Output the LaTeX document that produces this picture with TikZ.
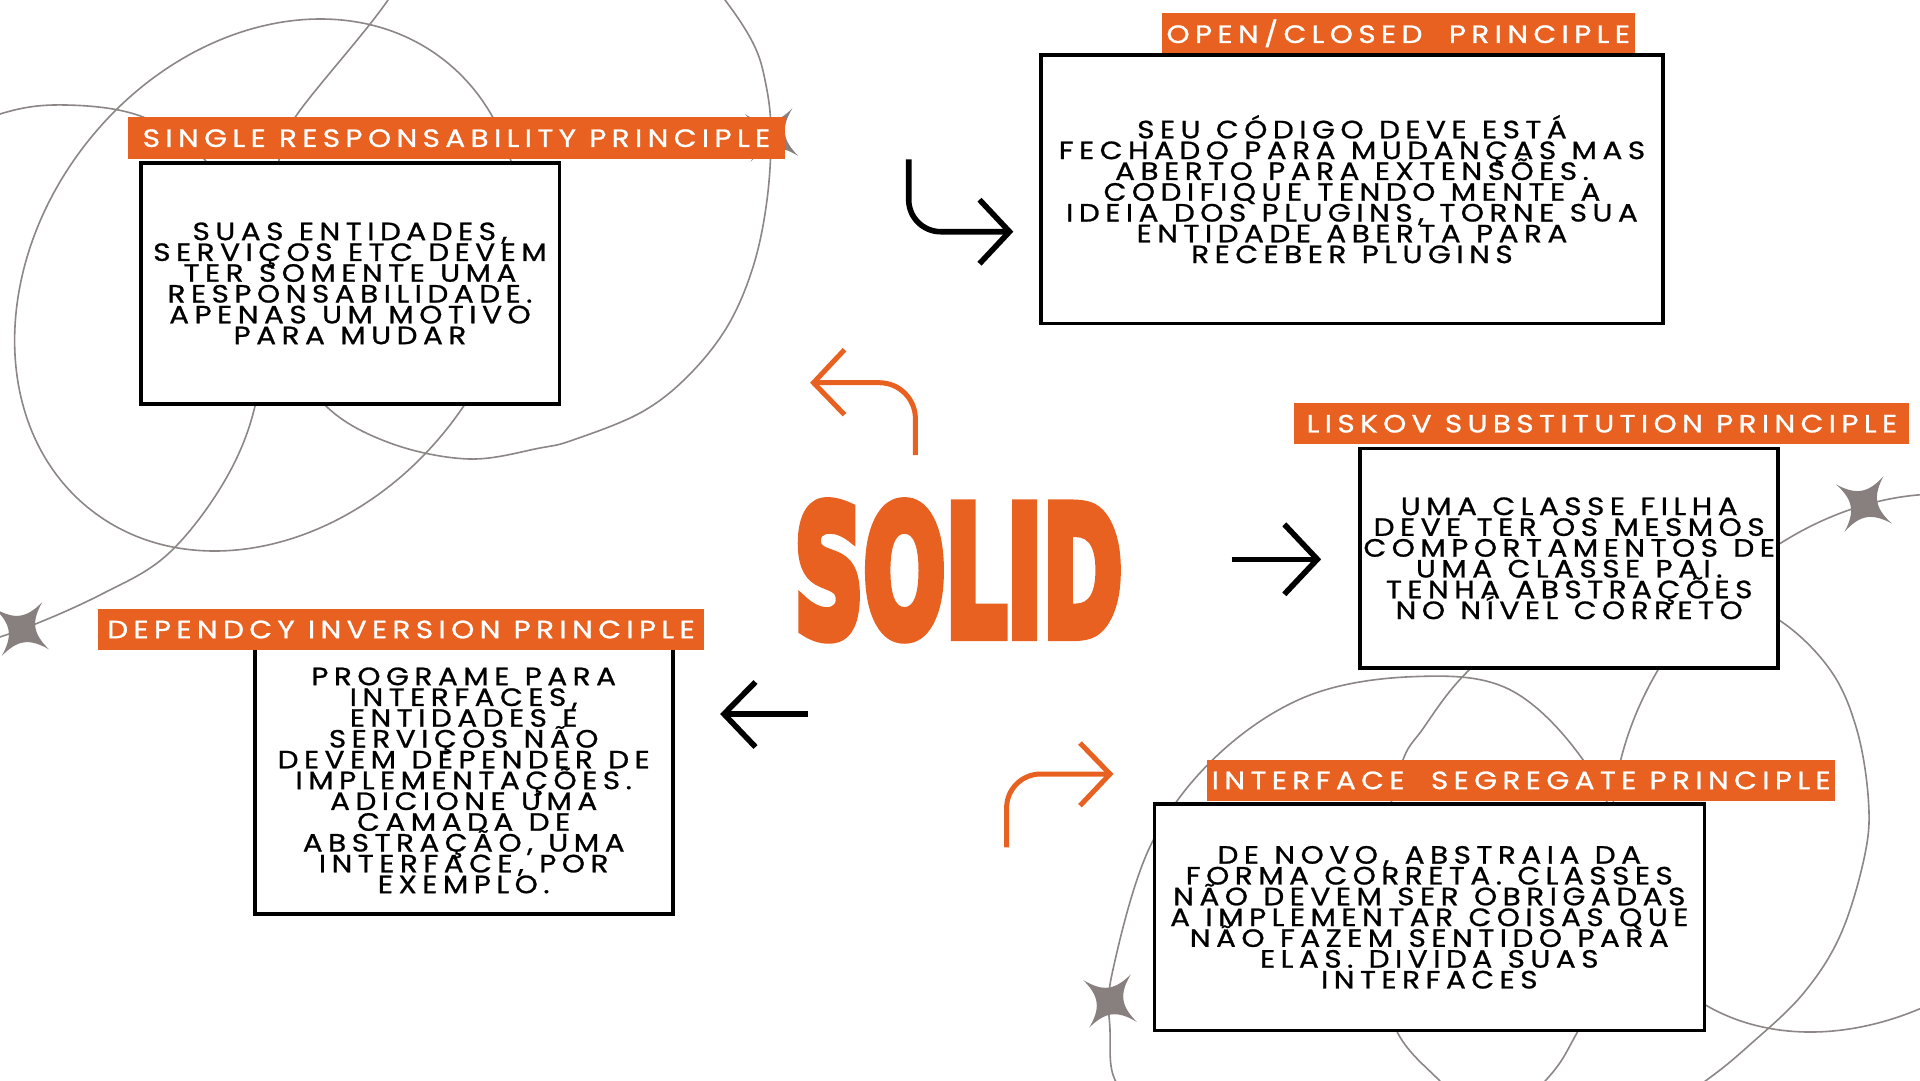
\documentclass[tikz,border=0pt]{standalone}
\usepackage{fontspec}
\usepackage{graphicx}
\usetikzlibrary{calc}
\setmainfont{Poppins}
\newfontfamily\cardfont{Poppins}[LetterSpace=22, FakeStretch=1.18, FakeBold=1, WordSpace=1.15]
\newfontfamily\tagfont{Poppins}[LetterSpace=21.5, FakeStretch=1.18, FakeBold=1]
\newfontfamily\solidfont{DejaVu Sans Bold}[FakeBold=7]
\definecolor{brandorange}{RGB}{232,97,33}
\definecolor{curvegray}{RGB}{140,135,134}
\definecolor{stargray}{RGB}{136,128,127}
\setlength{\lineskiplimit}{-100pt}

\tikzset{
  card/.style={draw=black, line width=3.6pt, fill=white, inner sep=0pt, align=center,
    font=\cardfont\fontsize{25pt}{20.8pt}\selectfont},
  tag/.style={fill=brandorange, text=white, inner sep=0pt,
    font=\tagfont\fontsize{25pt}{25pt}\selectfont},
  flowblack/.style={draw=black, line width=5.6pt, line join=miter},
  floworange/.style={draw=brandorange, line width=5pt, line join=miter},
  orbit/.style={draw=curvegray, line width=1.6pt},
  sparkle/.pic={
    \fill[stargray] (24,24) .. controls (6,10) and (-6,10) .. (-24,24)
      .. controls (-10,6) and (-10,-6) .. (-24,-24)
      .. controls (-6,-10) and (6,-10) .. (24,-24)
      .. controls (10,-6) and (10,6) .. cycle;
  }
}

\begin{document}
\begin{tikzpicture}[x=1pt,y=-1pt]
\useasboundingbox (0,0) rectangle (1920,1080);
\fill[white] (0,0) rectangle (1920,1080);

% decorative orbits
\begin{scope}
  \clip (0,0) rectangle (1920,1080);
  % upper left group
  \draw[orbit, rotate around={51.8:(267.5,285)}] (267.5,285) ellipse [x radius=286, y radius=230];
  \draw[orbit] plot[smooth, tension=0.6] coordinates {(-80,150) (0,114) (66,105) (143,117) (205,160) (245,235) (262,320) (255,406) (224,482) (168,554) (102,594) (20,630) (-60,655)};
  \draw[orbit] plot[smooth, tension=0.6] coordinates {(430,-80) (388,0) (296,116) (279,160) (268,250) (285,340) (326,406) (390,443) (469,459) (540,448) (573,440) (640,413) (687,377) (727,327) (753,267) (767,200) (771,130) (765,80) (753,43) (725,0) (690,-40)};
  % lower right group
  \draw[orbit, rotate around={47.6:(1875,763)}] (1875,763) ellipse [x radius=297, y radius=231];
  \draw[orbit] plot[smooth cycle, tension=0.6] coordinates {(1465.6,673.5) (1540,610) (1620,585) (1710,590) (1779,620) (1830,669.6) (1856.6,728.9) (1868.4,800) (1864.7,855.4) (1840.6,934.5) (1803,993.8) (1749.5,1045) (1706.7,1080) (1640,1125) (1560,1140) (1480,1115) (1438.9,1080) (1396,1029.4) (1380,950) (1383,850) (1401.4,764.5) (1422.8,728.9)};
  \draw[orbit] plot[smooth cycle, tension=0.6] coordinates {(1412,676.7) (1508.5,689) (1583.5,760.5) (1622,850) (1620,950) (1578,1031) (1546,1080) (1470,1150) (1350,1190) (1230,1165) (1150,1115) (1115,1080) (1110,1030) (1112,974) (1149.6,847.5) (1214,758.5) (1305,697)};
\end{scope}

% sparkles
\pic[rotate=8] at (22,629) {sparkle};
\pic[rotate=7] at (771.5,135) {sparkle};
\pic[rotate=10] at (1864,504) {sparkle};
\pic[rotate=7] at (1110,1001) {sparkle};

% principle cards
\node[card, minimum width=418.6pt, minimum height=241pt] (srp) at (350,283.4) {%
SUAS ENTIDADES,\\ SERVIÇOS ETC DEVEM\\ TER SOMENTE UMA\\ RESPONSABILIDADE.\\ APENAS UM MOTIVO\\ PARA MUDAR};
\node[card, minimum width=622.4pt, minimum height=268.2pt] (ocp) at (1352,189.2) {%
SEU CÓDIGO DEVE ESTÁ\\ FECHADO PARA MUDANÇAS MAS\\ ABERTO PARA EXTENSÕES.\\ CODIFIQUE TENDO MENTE A\\ IDEIA DOS PLUGINS, TORNE SUA\\ ENTIDADE ABERTA PARA\\ RECEBER PLUGINS};
\node[card, minimum width=418pt, minimum height=219.8pt] (lsp) at (1569.2,558.3) {%
UMA CLASSE FILHA\\ DEVE TER OS MESMOS\\ COMPORTAMENTOS DE\\ UMA CLASSE PAI.\\ TENHA ABSTRAÇÕES\\ NO NÍVEL CORRETO};
\node[card, minimum width=418pt, minimum height=267.2pt] (dip) at (463.7,780.4) {%
PROGRAME PARA\\ INTERFACES,\\ ENTIDADES E\\ SERVIÇOS NÃO\\ DEVEM DEPENDER DE\\ IMPLEMENTAÇÕES.\\ ADICIONE UMA\\ CAMADA DE\\ ABSTRAÇÃO, UMA\\ INTERFACE, POR\\ EXEMPLO.};
\node[card, minimum width=550pt, minimum height=226.5pt] (isp) at (1429.3,917.3) {%
DE NOVO, ABSTRAIA DA\\ FORMA CORRETA. CLASSES\\ NÃO DEVEM SER OBRIGADAS\\ A IMPLEMENTAR COISAS QUE\\ NÃO FAZEM SENTIDO PARA\\ ELAS. DIVIDA SUAS\\ INTERFACES};

% title tags
\node[tag, minimum width=657pt, minimum height=41.7pt] (srptag) at (456.5,138.2) {SINGLE RESPONSABILITY PRINCIPLE};
\node[tag, minimum width=472.7pt, minimum height=40pt] (ocptag) at (1398.2,33.3) {OPEN/CLOSED\ \ PRINCIPLE};
\node[tag, minimum width=615pt, minimum height=40.7pt] (lsptag) at (1601.9,423.7) {LISKOV SUBSTITUTION PRINCIPLE};
\node[tag, minimum width=606pt, minimum height=41pt] (diptag) at (401,629.5) {DEPENDCY INVERSION PRINCIPLE};
\node[tag, minimum width=628.5pt, minimum height=40.7pt] (isptag) at (1521.2,780.4) {INTERFACE\ \ SEGREGATE PRINCIPLE};

% centre word
\node[anchor=base west, inner sep=0pt, text=brandorange] (solid) at (794,635)
  {\scalebox{0.963}[1.774]{\solidfont\fontsize{100pt}{100pt}\selectfont SOLID}};

% arrows
\coordinate (ocpA) at (908.7,159.3);
\coordinate (ocpT) at (1009.5,231.7);
\draw[flowblack, rounded corners=32pt] (ocpA) |- (ocpT);
\draw[flowblack] ($(ocpT)+(-30,-32)$) -- (ocpT) -- ($(ocpT)+(-30,32)$);

\coordinate (srpA) at (915.4,455);
\coordinate (srpT) at (813.5,382.7);
\draw[floworange, rounded corners=36pt] (srpA) |- (srpT);
\draw[floworange] ($(srpT)+(31,-33)$) -- (srpT) -- ($(srpT)+(31,32)$);

\coordinate (lspA) at (1231.7,559.3);
\coordinate (lspT) at (1317.3,559.3);
\draw[flowblack] (lspA) -- (lspT);
\draw[flowblack] ($(lspT)+(-33,-35)$) -- (lspT) -- ($(lspT)+(-33,35)$);

\coordinate (dipA) at (808,714);
\coordinate (dipT) at (724,714);
\draw[flowblack] (dipA) -- (dipT);
\draw[flowblack] ($(dipT)+(31.5,-32)$) -- (dipT) -- ($(dipT)+(31.5,33)$);

\coordinate (ispA) at (1006.6,847.4);
\coordinate (ispT) at (1110,774);
\draw[floworange, rounded corners=34pt] (ispA) |- (ispT);
\draw[floworange] ($(ispT)+(-30,-31)$) -- (ispT) -- ($(ispT)+(-30,31.7)$);
\end{tikzpicture}
\end{document}
